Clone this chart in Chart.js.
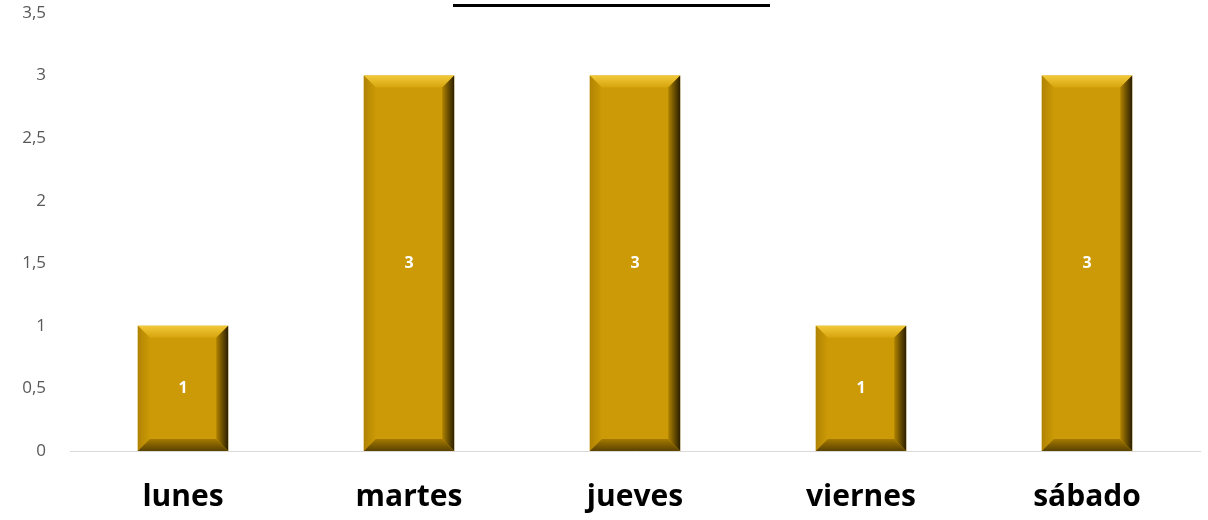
<!DOCTYPE html>
<html>
<head>
<meta charset="utf-8">
<script src="https://cdn.jsdelivr.net/npm/chart.js@4"></script>
<style>
  body { margin: 0; background: #fff; }
  #wrap { width: 1208px; height: 520px; }
</style>
</head>
<body>
<div id="wrap"><canvas id="chart"></canvas></div>
<script>
// data
const dias = ['lunes', 'martes', 'jueves', 'viernes', 'sábado'];
const cantidad = [1, 3, 3, 1, 3];

// bevel look + value labels inside bars
const bevelPlugin = {
    id: 'bevel',
    afterDatasetsDraw(chart) {
        const ctx = chart.ctx;
        const meta = chart.getDatasetMeta(0);
        meta.data.forEach(function(bar, i) {
            const x0 = bar.x - bar.width / 2;
            const x1 = bar.x + bar.width / 2;
            const y0 = bar.y;
            const y1 = bar.base;
            const b = 12;
            ctx.save();
            // top
            let g = ctx.createLinearGradient(0, y0, 0, y0 + b);
            g.addColorStop(0, '#f2c93a');
            g.addColorStop(1, '#d6a40c');
            ctx.fillStyle = g;
            ctx.beginPath();
            ctx.moveTo(x0, y0); ctx.lineTo(x1, y0); ctx.lineTo(x1 - b, y0 + b); ctx.lineTo(x0 + b, y0 + b);
            ctx.fill();
            // left
            g = ctx.createLinearGradient(x0, 0, x0 + b, 0);
            g.addColorStop(0, '#b08303');
            g.addColorStop(1, '#cc9a06');
            ctx.fillStyle = g;
            ctx.beginPath();
            ctx.moveTo(x0, y0); ctx.lineTo(x0 + b, y0 + b); ctx.lineTo(x0 + b, y1 - b); ctx.lineTo(x0, y1);
            ctx.fill();
            // right
            g = ctx.createLinearGradient(x1 - b, 0, x1, 0);
            g.addColorStop(0, '#b08300');
            g.addColorStop(1, '#2a1e00');
            ctx.fillStyle = g;
            ctx.beginPath();
            ctx.moveTo(x1, y0); ctx.lineTo(x1 - b, y0 + b); ctx.lineTo(x1 - b, y1 - b); ctx.lineTo(x1, y1);
            ctx.fill();
            // bottom
            g = ctx.createLinearGradient(0, y1 - b, 0, y1);
            g.addColorStop(0, '#a57a00');
            g.addColorStop(1, '#5a4200');
            ctx.fillStyle = g;
            ctx.beginPath();
            ctx.moveTo(x0, y1); ctx.lineTo(x0 + b, y1 - b); ctx.lineTo(x1 - b, y1 - b); ctx.lineTo(x1, y1);
            ctx.fill();
            // value
            ctx.fillStyle = '#ffffff';
            ctx.font = 'bold 16px "Open Sans", sans-serif';
            ctx.textAlign = 'center';
            ctx.textBaseline = 'middle';
            ctx.fillText(String(cantidad[i]), bar.x, (y0 + y1) / 2);
            ctx.restore();
        });
        // short black line at the top (title placeholder)
        ctx.save();
        ctx.strokeStyle = '#000';
        ctx.lineWidth = 3;
        ctx.beginPath();
        ctx.moveTo(453, 5.5);
        ctx.lineTo(770, 5.5);
        ctx.stroke();
        ctx.restore();
    }
};

const ctx = document.getElementById('chart').getContext('2d');
const myChart = new Chart(ctx, {
    type: 'bar',
    data: {
        labels: dias,
        datasets: [{
            data: cantidad,
            backgroundColor: '#cc9a06',
            barPercentage: 0.4,
            categoryPercentage: 1
        }]
    },
    options: {
        responsive: true,
        maintainAspectRatio: false,
        animation: false,
        layout: { padding: { top: 13, right: 8, left: 0, bottom: 0 } },
        plugins: {
            legend: { display: false },
            tooltip: { enabled: false }
        },
        scales: {
            x: {
                grid: { display: false },
                border: { display: true, color: '#d9d9d9', width: 1 },
                ticks: {
                    color: '#000',
                    padding: 20,
                    font: { family: '"Open Sans", sans-serif', size: 30, weight: 'bold' }
                },
                afterFit(scale) { scale.height = 69; }
            },
            y: {
                min: 0,
                max: 3.5,
                grid: { display: false },
                border: { display: false },
                ticks: {
                    stepSize: 0.5,
                    color: '#595959',
                    padding: 16,
                    font: { family: '"Open Sans", sans-serif', size: 17 },
                    callback: function(v) { return String(v).replace('.', ','); }
                },
                afterFit(scale) {
                    scale.width = 70;
                    scale.paddingTop = 0;
                    scale.paddingBottom = 0;
                }
            }
        }
    },
    plugins: [bevelPlugin]
});
</script>
</body>
</html>
